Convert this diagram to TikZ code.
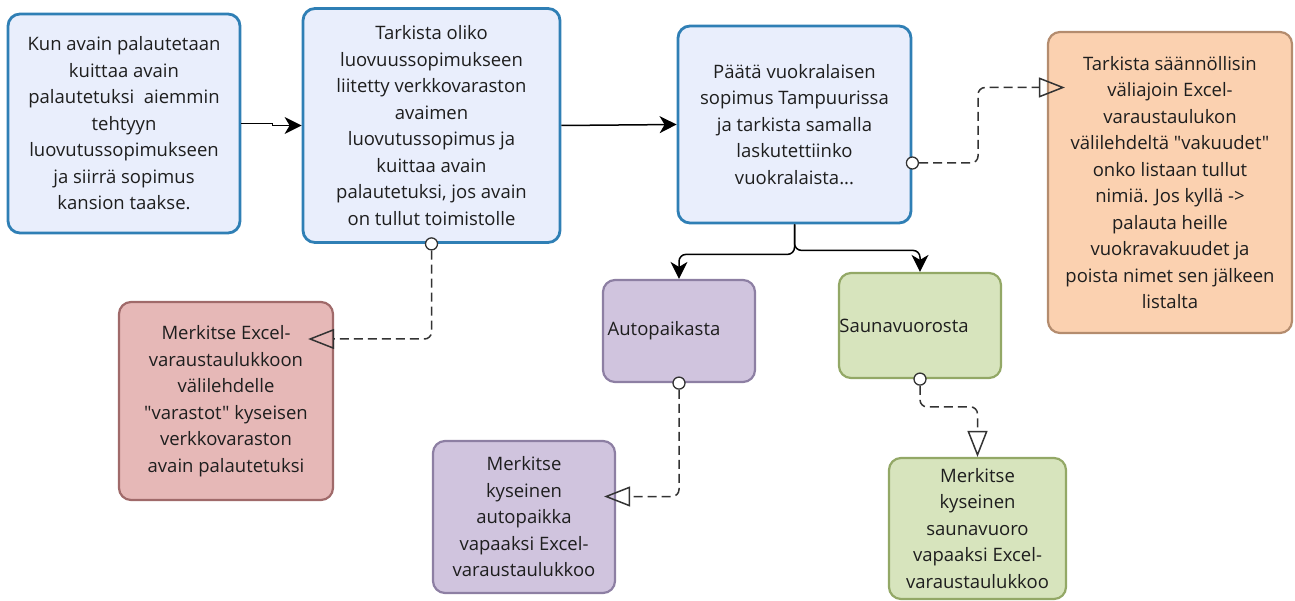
\documentclass[tikz,border=0pt]{standalone}
\usepackage{fontspec}
\setmainfont{Open Sans}[Ligatures=TeXOff]
\usetikzlibrary{arrows.meta}

\definecolor{textc}{HTML}{1E1E1E}
\definecolor{lineg}{HTML}{333333}
\definecolor{bluefill}{HTML}{E9EEFC}
\definecolor{blueline}{HTML}{2F7FB5}
\definecolor{orangefill}{HTML}{FBD1B0}
\definecolor{orangeline}{HTML}{B48C6E}
\definecolor{redfill}{HTML}{E6B8B7}
\definecolor{redline}{HTML}{A06A6A}
\definecolor{purplefill}{HTML}{D0C4DE}
\definecolor{purpleline}{HTML}{8D7FA3}
\definecolor{greenfill}{HTML}{D7E4BD}
\definecolor{greenline}{HTML}{93A866}

\tikzset{
  box/.style={draw, rounded corners=12pt, align=center, inner sep=0pt,
    text=textc, font=\fontsize{18.5}{26.5}\selectfont},
  bluebox/.style={box, fill=bluefill, draw=blueline, line width=2.8pt},
  orangebox/.style={box, fill=orangefill, draw=orangeline, line width=2.2pt},
  redbox/.style={box, fill=redfill, draw=redline, line width=2.2pt},
  purplebox/.style={box, fill=purplefill, draw=purpleline, line width=2.2pt},
  greenbox/.style={box, fill=greenfill, draw=greenline, line width=2.2pt},
  boxlabel/.style={inner sep=0pt, text=textc, font=\fontsize{18.5}{26.5}\selectfont},
  port/.style={circle, draw=lineg, fill=white, line width=1.3pt,
    minimum size=12pt, inner sep=0pt},
  flow/.style={draw=black, line width=1.5pt,
    -{Stealth[length=17pt,width=17pt,inset=5pt]}},
  dep/.style={draw=lineg, line width=1.5pt, dash pattern=on 9pt off 5pt,
    rounded corners=7pt, -{Triangle[open,length=26pt,width=20pt]}}
}

\begin{document}
\begin{tikzpicture}[x=1pt,y=-1pt]
\useasboundingbox (0,0) rectangle (1295,601);

% process steps
\node[bluebox, minimum width=232pt, minimum height=219pt] (A) at (124,123.5)
  {Kun avain palautetaan\\kuittaa avain\\palautetuksi\ \ aiemmin\\tehtyyn\\luovutussopimukseen\\ja siirrä sopimus\\kansion taakse.};
\node[bluebox, minimum width=257pt, minimum height=234pt] (B) at (431.5,125.5)
  {Tarkista oliko\\luovuussopimukseen\\liitetty verkkovaraston\\avaimen\\luovutussopimus ja\\kuittaa avain\\palautetuksi, jos avain\\on tullut toimistolle};
\node[bluebox, minimum width=233pt, minimum height=197pt] (C) at (794.5,124.5)
  {Päätä vuokralaisen\\sopimus Tampuurissa\\ja tarkista samalla\\laskutettiinko\\vuokralaista...};

% follow-up tasks
\node[orangebox, minimum width=244pt, minimum height=301pt] (D) at (1170,182.5)
  {Tarkista säännöllisin\\väliajoin Excel-\\varaustaulukon\\välilehdeltä "vakuudet"\\onko listaan tullut\\nimiä. Jos kyllä ->\\palauta heille\\vuokravakuudet ja\\poista nimet sen jälkeen\\listalta};
\node[redbox, minimum width=214pt, minimum height=198pt] (E) at (226,401)
  {Merkitse Excel-\\varaustaulukkoon\\välilehdelle\\"varastot" kyseisen\\verkkovaraston\\avain palautetuksi};
\node[purplebox, minimum width=152pt, minimum height=102pt] (F) at (679,331) {};
\node[boxlabel] (Ft) at (664,331) {Autopaikasta};
\node[greenbox, minimum width=162pt, minimum height=105pt] (G) at (920,325.5) {};
\node[boxlabel] (Gt) at (904,326) {Saunavuorosta};
\node[purplebox, minimum width=182pt, minimum height=152pt] (H) at (524,517)
  {Merkitse\\kyseinen\\autopaikka\\vapaaksi Excel-\\varaustaulukkoo};
\node[greenbox, minimum width=177pt, minimum height=141pt] (I) at (977.5,528.5)
  {Merkitse\\kyseinen\\saunavuoro\\vapaaksi Excel-\\varaustaulukkoo};

% main flow
\draw[flow] (A.east) -- ++(31,0) |- (B.west);
\draw[flow] (B.east) -- (C.west);
\draw[flow, rounded corners=7pt] (C.south) -- ++(0,30) -| (F.north);
\draw[flow, rounded corners=7pt] (C.south) -- ++(0,26) -| (G.north);

% connection ports
\node[port] (pB) at (B.south) {};
\node[port] (pC) at ([yshift=-38.5pt]C.east) {};
\node[port] (pF) at (F.south) {};
\node[port] (pG) at (G.south) {};

% dependent tasks
\draw[dep, shorten >=-26pt] (pB.south) |- ([yshift=62pt]E.east);
\draw[dep, shorten >=-18pt] (pC.east) -- ++(59,0) |- ([yshift=95pt]D.west);
\draw[dep, shorten >=-12pt] (pF.south) |- ([yshift=20.5pt]H.east);
\draw[dep] (pG.south) |- ([yshift=50pt]I.north) -- (I.north);
\end{tikzpicture}
\end{document}
